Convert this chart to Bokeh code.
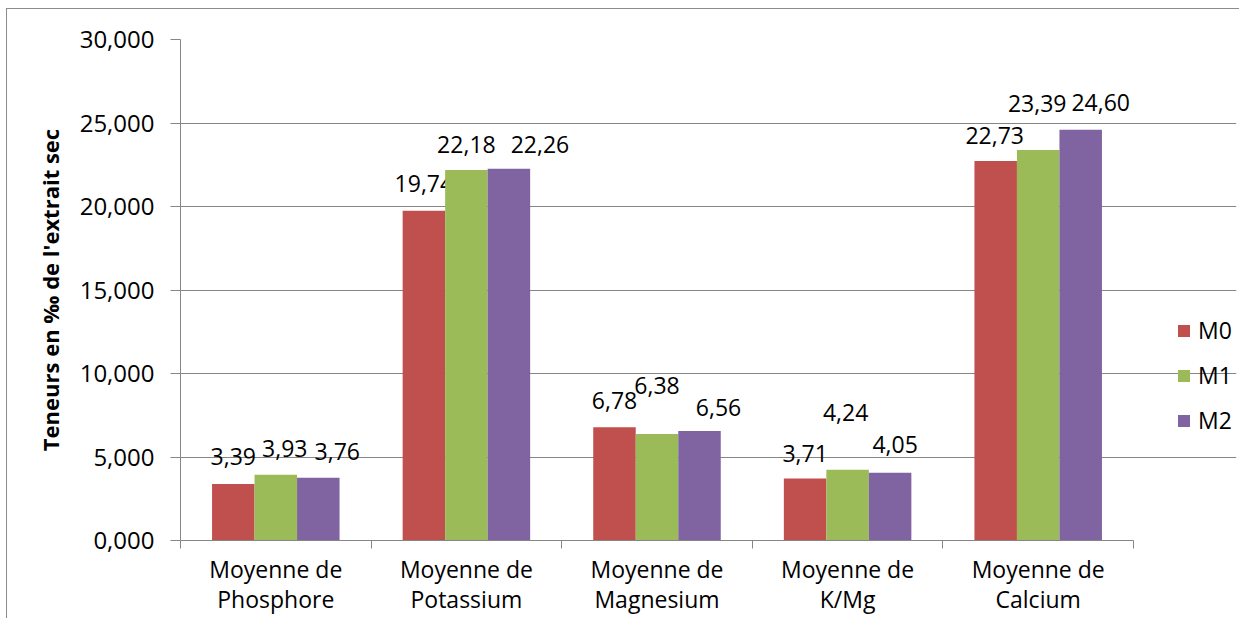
from bokeh.plotting import figure
from bokeh.models import (ColumnDataSource, Range1d, FixedTicker, Legend, LegendItem, LinearAxis)
from bokeh.core.properties import value
from bokeh.embed import file_html
from bokeh.resources import INLINE

# ---- data ----
cat_prefix = "Moyenne de"
categories = ["Phosphore", "Potassium", "Magnesium", "K/Mg", "Calcium"]
series_names = ["M0", "M1", "M2"]
M0 = [3.39, 19.74, 6.78, 3.71, 22.73]
M1 = [3.93, 22.18, 6.38, 4.24, 23.39]
M2 = [3.76, 22.26, 6.56, 4.05, 24.60]
y_ticks = [0, 5, 10, 15, 20, 25, 30]
y_tick_labels = ["0,000", "5,000", "10,000", "15,000", "20,000", "25,000", "30,000"]

# label placement tweaks (screen pixels), as in the reference
label_dx = [[0, 0, 0, 0, -1], [9, 0, 0, -2, -1], [19, 31, 19, 5, 20]]
label_dy = [[-27, -27, -27, -25, -25], [-26, -26, -48, -57, -46], [-26, -24, -23, -28, -27]]

colors = ["#C0504D", "#9BBB59", "#8064A2"]
FONT = "Open Sans"
GRID = "#868686"

# layout (pixels)
W, H = 1233, 610
BL, BR, BT, BB = 173, 4, 30, 79
CAT_PX = 190.6                      # width of one category on screen
n_cat = len(categories)
frame_w = W - BL - BR
x_end = frame_w / CAT_PX            # frame extends right to leave room for the legend

p = figure(width=W, height=H, output_backend="svg", toolbar_location=None,
           x_range=Range1d(0, x_end), y_range=Range1d(0, 30),
           min_border_left=BL, min_border_right=BR, min_border_top=BT, min_border_bottom=BB)
p.outline_line_color = None
p.styles = {"border-left": "1px solid #8c8c8c", "border-top": "1px solid #8c8c8c",
            "margin-left": "6px", "margin-top": "8px"}

bar_w = 0.223
offsets = [-bar_w, 0.0, bar_w]
centers = [i + 0.5 for i in range(n_cat)]
renderers = []
for k, vals in enumerate([M0, M1, M2]):
    xs = [c + offsets[k] for c in centers]
    src = ColumnDataSource(dict(
        x=xs, top=vals,
        label=[f"{v:.2f}".replace(".", ",") for v in vals],
        dx=label_dx[k], dy=label_dy[k]))
    r = p.vbar(x="x", top="top", width=bar_w, bottom=0, source=src,
               fill_color=colors[k], line_color=None)
    renderers.append(r)
    p.text(x="x", y="top", text="label", x_offset="dx", y_offset="dy", source=src,
           text_align="center", text_baseline="alphabetic",
           text_font_size="23px", text_color="black", text_font=value(FONT))

# x axis: labels at centres, ticks at boundaries (first line of the category label)
xa = p.xaxis[0]
xa.bounds = (0, n_cat)
xa.ticker = FixedTicker(ticks=centers, minor_ticks=list(range(n_cat + 1)))
xa.major_label_overrides = {c: cat_prefix for c in centers}
xa.major_tick_out = 0
xa.major_tick_in = 0
xa.minor_tick_out = 8
xa.minor_tick_in = 0
xa.minor_tick_line_color = GRID
xa.axis_line_color = GRID
xa.major_label_text_font = FONT
xa.major_label_text_font_size = "23px"
xa.major_label_text_color = "black"
xa.major_label_standoff = 4

# second line of the category labels
xa2 = LinearAxis(ticker=FixedTicker(ticks=centers, minor_ticks=[]))
xa2.major_label_overrides = {c: lab for c, lab in zip(centers, categories)}
xa2.axis_line_color = None
xa2.major_tick_line_color = None
xa2.minor_tick_line_color = None
xa2.major_tick_out = 0
xa2.major_tick_in = 0
xa2.minor_tick_out = 0
xa2.major_label_text_font = FONT
xa2.major_label_text_font_size = "23px"
xa2.major_label_text_color = "black"
xa2.major_label_standoff = -5
p.add_layout(xa2, "below")

ya = p.yaxis[0]
ya.ticker = FixedTicker(ticks=y_ticks, minor_ticks=[])
ya.major_label_overrides = {t: l for t, l in zip(y_ticks, y_tick_labels)}
ya.major_tick_out = 10
ya.major_tick_in = 0
ya.major_tick_line_color = GRID
ya.axis_line_color = GRID
ya.major_label_text_font = FONT
ya.major_label_text_font_size = "24px"
ya.major_label_text_color = "black"
ya.major_label_standoff = 16
ya.axis_label = "Teneurs en ‰ de l'extrait sec"
ya.axis_label_text_font = FONT
ya.axis_label_text_font_style = "bold"
ya.axis_label_text_font_size = "22px"
ya.axis_label_text_color = "black"
ya.axis_label_standoff = 12

p.xgrid.grid_line_color = None
p.ygrid.grid_line_color = GRID
p.ygrid.grid_line_width = 1
p.ygrid.ticker = FixedTicker(ticks=y_ticks[1:])
p.ygrid.bounds = (0, n_cat)

legend = Legend(items=[LegendItem(label=n, renderers=[r]) for n, r in zip(series_names, renderers)],
                location=(996, 104), orientation="vertical", padding=0, margin=0,
                spacing=13, label_height=30, glyph_height=15, glyph_width=15,
                label_standoff=7, border_line_color=None, background_fill_alpha=0,
                label_text_font=FONT, label_text_font_size="23px", label_text_color="black")
p.add_layout(legend)

open("out.html", "w").write(file_html(p, INLINE))
